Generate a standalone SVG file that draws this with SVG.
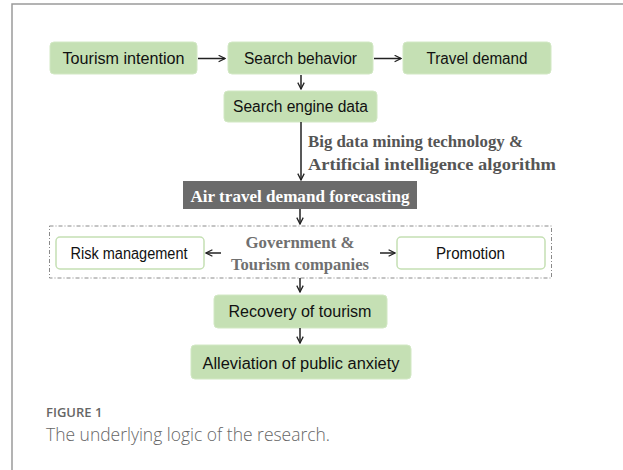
<svg xmlns="http://www.w3.org/2000/svg" width="623" height="470" viewBox="0 0 623 470">
<defs>
<marker id="arr" viewBox="0 0 10 10" refX="9" refY="5" markerWidth="8" markerHeight="8" markerUnits="userSpaceOnUse" orient="auto">
<path d="M1,1 L9,5 L1,9" fill="none" stroke="#222" stroke-width="1.6"/>
</marker>
<style>
.g{fill:#c5e0b4;stroke:#d2e8c4;stroke-width:1}
.w{fill:#fff;stroke:#c5e0b4;stroke-width:1.5}
.t{font-family:"Liberation Sans",Arial,sans-serif;font-size:16px;fill:#111;text-anchor:middle}
.s{font-family:"Liberation Serif","Times New Roman",serif;font-weight:bold;font-size:16px}
.c{stroke:#222;stroke-width:1.5;fill:none;marker-end:url(#arr)}
</style>
</defs>
<rect width="623" height="470" fill="#fff"/>
<path d="M12,470 V4 H623" fill="none" stroke="#9a9a9a" stroke-width="1.5"/>

<g id="dashed-frame">
<rect x="49.5" y="226" width="502" height="52" fill="none" stroke="#8a8a8a" stroke-width="1" stroke-dasharray="4,2,1,2"/>
</g>

<g id="n-tourism-intention"><rect class="g" x="50" y="42" width="147" height="32" rx="4"/><text class="t" x="123.5" y="63.5" textLength="122" lengthAdjust="spacingAndGlyphs">Tourism intention</text></g>
<g id="n-search-behavior"><rect class="g" x="228" y="42" width="145" height="32" rx="4"/><text class="t" x="300.5" y="63.5" textLength="113" lengthAdjust="spacingAndGlyphs">Search behavior</text></g>
<g id="n-travel-demand"><rect class="g" x="403" y="42" width="148" height="32" rx="4"/><text class="t" x="477" y="63.5" textLength="101" lengthAdjust="spacingAndGlyphs">Travel demand</text></g>
<g id="n-search-engine-data"><rect class="g" x="224" y="91" width="153" height="31" rx="4"/><text class="t" x="300.5" y="112" textLength="135" lengthAdjust="spacingAndGlyphs">Search engine data</text></g>
<g id="n-forecasting"><rect x="183" y="181" width="234" height="28" fill="#6b6b6b"/><text class="s" x="300" y="201.5" fill="#fff" text-anchor="middle" textLength="219" lengthAdjust="spacingAndGlyphs">Air travel demand  forecasting</text></g>
<g id="n-risk-management"><rect class="w" x="56" y="237" width="148" height="32" rx="4"/><text class="t" x="129" y="258.5" textLength="117" lengthAdjust="spacingAndGlyphs">Risk management</text></g>
<g id="n-government"><text class="s" fill="#707070" text-anchor="middle" font-size="17"><tspan x="300" y="248" textLength="109" lengthAdjust="spacingAndGlyphs">Government &amp;</tspan><tspan x="300" y="270" textLength="138" lengthAdjust="spacingAndGlyphs">Tourism companies</tspan></text></g>
<g id="n-promotion"><rect class="w" x="397" y="237" width="148" height="32" rx="4"/><text class="t" x="470.5" y="258.5" textLength="69" lengthAdjust="spacingAndGlyphs">Promotion</text></g>
<g id="n-recovery"><rect class="g" x="214" y="295" width="173" height="33" rx="4"/><text class="t" x="300" y="317" textLength="143" lengthAdjust="spacingAndGlyphs">Recovery of tourism</text></g>
<g id="n-alleviation"><rect class="g" x="191" y="345" width="220" height="34" rx="4"/><text class="t" x="301" y="368.5" textLength="197" lengthAdjust="spacingAndGlyphs">Alleviation of public anxiety</text></g>

<g id="connectors">
<line class="c" x1="198" y1="58.5" x2="225" y2="58.5"/>
<line class="c" x1="374" y1="58.5" x2="401" y2="58.5"/>
<line class="c" x1="301" y1="75" x2="301" y2="89"/>
<line class="c" x1="301" y1="122" x2="301" y2="180"/>
<line class="c" x1="300" y1="209" x2="300" y2="224"/>
<line class="c" x1="221" y1="253" x2="206" y2="253"/>
<line class="c" x1="380" y1="253" x2="395" y2="253"/>
<line class="c" x1="300" y1="278" x2="300" y2="292"/>
<line class="c" x1="300" y1="328" x2="300" y2="343"/>
<text class="s" fill="#555"><tspan x="308" y="147" textLength="215" lengthAdjust="spacingAndGlyphs">Big data mining technology &amp;</tspan><tspan x="308" y="170" textLength="248" lengthAdjust="spacingAndGlyphs">Artificial intelligence algorithm</tspan></text>
</g>

<g id="caption">
<text x="46" y="417" font-family="'Open Sans','Liberation Sans',sans-serif" font-size="13" font-weight="600" fill="#666">FIGURE 1</text>
<text x="46" y="441" font-family="'Open Sans','Liberation Sans',sans-serif" font-size="19" font-weight="300" fill="#666" textLength="284" lengthAdjust="spacingAndGlyphs">The underlying logic of the research.</text>
</g>
</svg>
